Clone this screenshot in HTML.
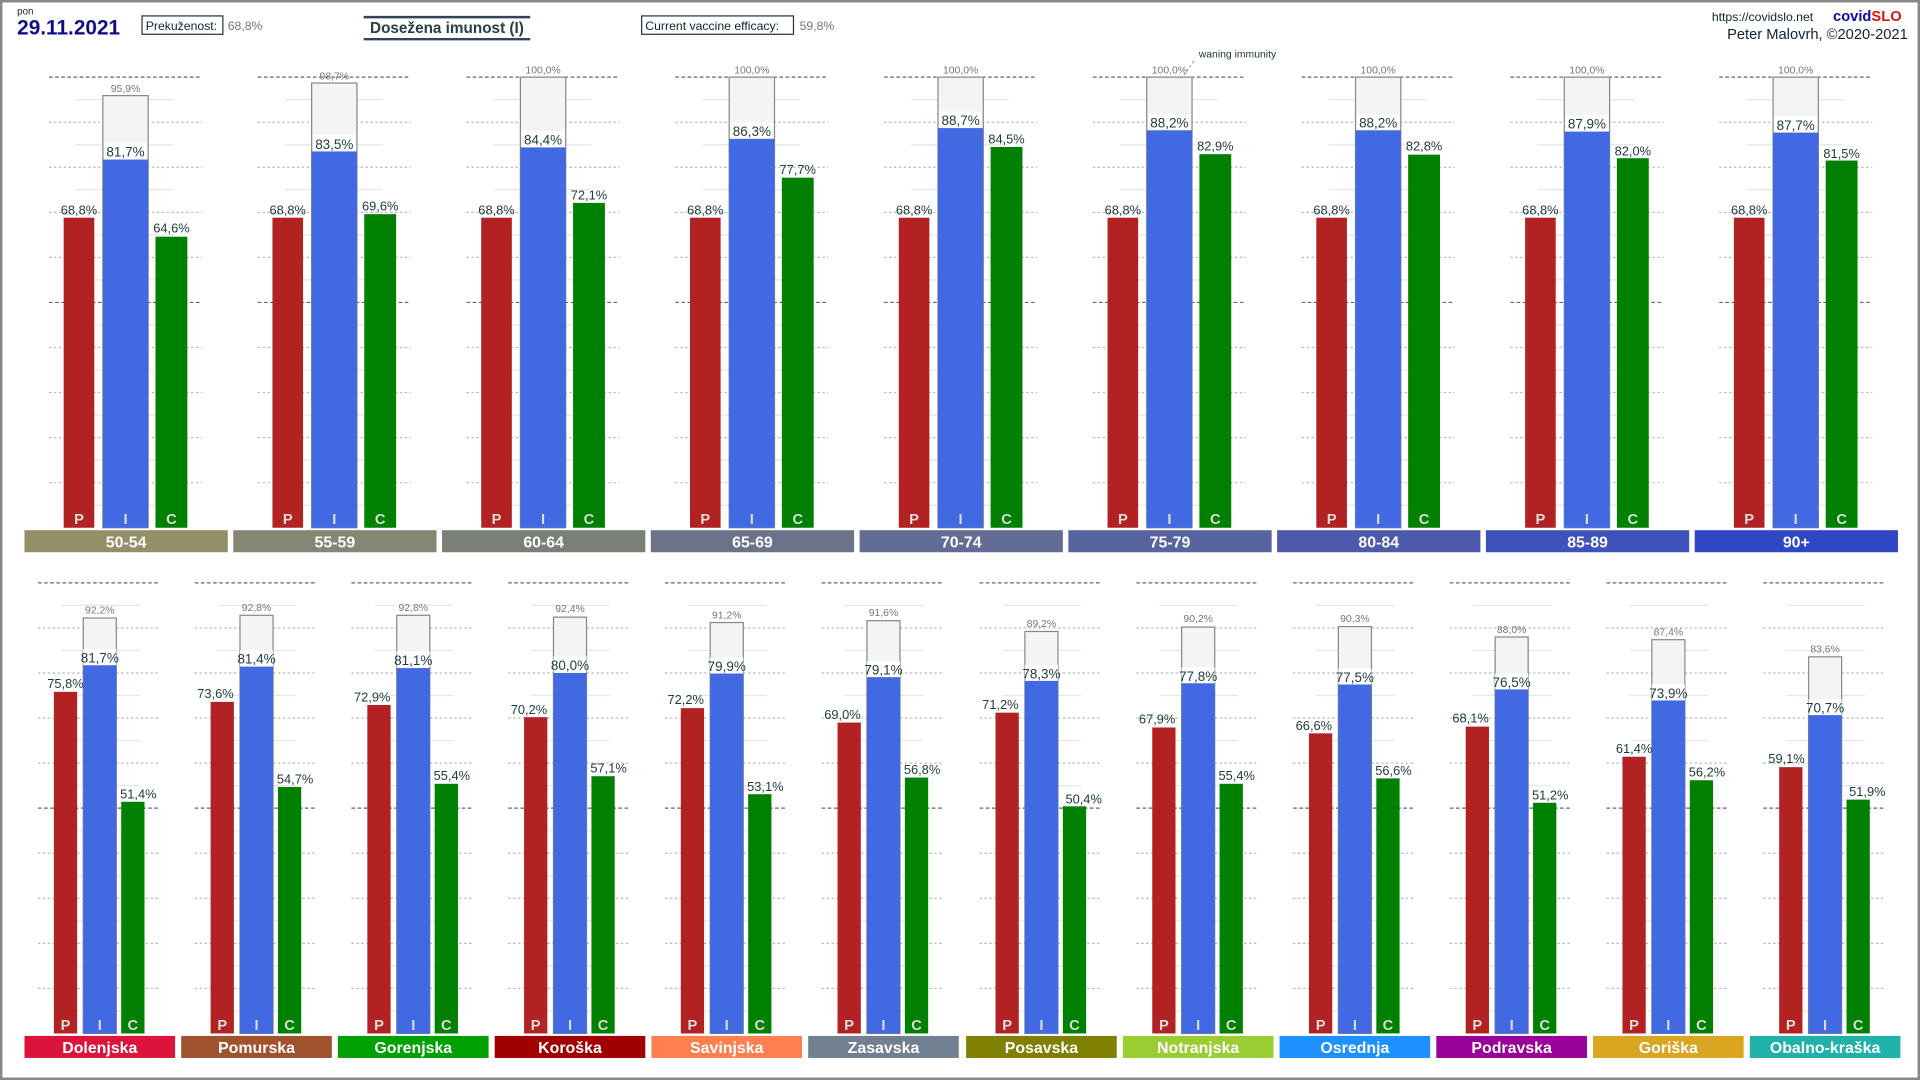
<!DOCTYPE html>
<html><head><meta charset="utf-8"><style>
html,body{margin:0;padding:0;background:#fff;}
svg{display:block;font-family:"Liberation Sans",sans-serif;}
.gl{font-size:13px;font-weight:bold;fill:#fff;text-anchor:middle}
.lt{font-size:12px;font-weight:bold;fill:#ddd;text-anchor:middle}
.v{font-size:10.5px;fill:#1f3a3a;text-anchor:middle}
.vi{font-size:11px;fill:#1f3a3a;text-anchor:middle}
.g{font-size:8.5px;fill:#777;text-anchor:middle}
.P{fill:#b22222}.I{fill:#4169e1}.C{fill:#008000}
.gh{fill:#f4f4f4;stroke:#888;stroke-width:1}
.sh{fill:#c8c8c8}
</style></head><body>
<svg width="1920" height="1080" viewBox="0 0 1568 882" xmlns="http://www.w3.org/2000/svg">
<defs>
<g id="gT">
<line x1="20" x2="145" y1="63" y2="63" stroke="#666" stroke-dasharray="3,2"/>
<line x1="20" x2="145" y1="247" y2="247" stroke="#666" stroke-dasharray="3,2"/>
<g stroke="#bbb" stroke-dasharray="2,2">
<line x1="20" x2="145" y1="99.8" y2="99.8"/><line x1="20" x2="145" y1="136.6" y2="136.6"/><line x1="20" x2="145" y1="173.4" y2="173.4"/><line x1="20" x2="145" y1="210.2" y2="210.2"/><line x1="20" x2="145" y1="283.8" y2="283.8"/><line x1="20" x2="145" y1="320.6" y2="320.6"/><line x1="20" x2="145" y1="357.4" y2="357.4"/><line x1="20" x2="145" y1="394.2" y2="394.2"/></g>
<g stroke="#e6e6e6">
<line x1="42" x2="122" y1="81.4" y2="81.4"/><line x1="42" x2="122" y1="118.2" y2="118.2"/><line x1="42" x2="122" y1="155" y2="155"/><line x1="42" x2="122" y1="191.8" y2="191.8"/><line x1="42" x2="122" y1="228.6" y2="228.6"/><line x1="42" x2="122" y1="265.4" y2="265.4"/><line x1="42" x2="122" y1="302.2" y2="302.2"/><line x1="42" x2="122" y1="339" y2="339"/><line x1="42" x2="122" y1="375.8" y2="375.8"/><line x1="42" x2="122" y1="412.6" y2="412.6"/></g>
</g>
<g id="gB">
<line x1="11" x2="111" y1="476" y2="476" stroke="#666" stroke-dasharray="3,2"/>
<line x1="11" x2="111" y1="660" y2="660" stroke="#666" stroke-dasharray="3,2"/>
<g stroke="#bbb" stroke-dasharray="2,2">
<line x1="11" x2="111" y1="512.8" y2="512.8"/><line x1="11" x2="111" y1="549.6" y2="549.6"/><line x1="11" x2="111" y1="586.4" y2="586.4"/><line x1="11" x2="111" y1="623.2" y2="623.2"/><line x1="11" x2="111" y1="696.8" y2="696.8"/><line x1="11" x2="111" y1="733.6" y2="733.6"/><line x1="11" x2="111" y1="770.4" y2="770.4"/><line x1="11" x2="111" y1="807.2" y2="807.2"/></g>
<g stroke="#e6e6e6">
<line x1="30" x2="94" y1="494.4" y2="494.4"/><line x1="30" x2="94" y1="531.2" y2="531.2"/><line x1="30" x2="94" y1="568" y2="568"/><line x1="30" x2="94" y1="604.8" y2="604.8"/><line x1="30" x2="94" y1="641.6" y2="641.6"/><line x1="30" x2="94" y1="678.4" y2="678.4"/><line x1="30" x2="94" y1="715.2" y2="715.2"/><line x1="30" x2="94" y1="752" y2="752"/><line x1="30" x2="94" y1="788.8" y2="788.8"/><line x1="30" x2="94" y1="825.6" y2="825.6"/></g>
</g>
</defs>
<rect x="1" y="1" width="1566" height="880" fill="#fff" stroke="#888" stroke-width="2"/>

<!-- header -->
<text x="14" y="12" font-size="8" fill="#223">pon</text>
<text x="14" y="28" font-size="17" font-weight="bold" fill="#0a0a8a" stroke="#99a" stroke-width="0.3">29.11.2021</text>
<rect x="116" y="13" width="66" height="15" fill="#fff" stroke="#234"/>
<text x="119" y="24.5" font-size="10" fill="#123">Prekuženost:</text>
<text x="186" y="24.5" font-size="10" fill="#777">68,8%</text>
<line x1="297" x2="433" y1="14" y2="14" stroke="#345" stroke-width="2"/>
<line x1="297" x2="433" y1="32" y2="32" stroke="#345" stroke-width="2"/>
<text x="365" y="27" font-size="12.5" font-weight="bold" fill="#2a3f3f" text-anchor="middle">Dosežena imunost (I)</text>
<rect x="524" y="13" width="124" height="15" fill="#fff" stroke="#234"/>
<text x="527" y="24.5" font-size="10" fill="#123">Current vaccine efficacy:</text>
<text x="653" y="24.5" font-size="10" fill="#777">59,8%</text>
<text x="1398" y="17" font-size="10" fill="#123">https://covidslo.net</text>
<text x="1497" y="17" font-size="12" font-weight="bold" fill="#0a0aa0">covid<tspan fill="#e01010">SLO</tspan></text>
<text x="1558" y="32" font-size="12" fill="#123" text-anchor="end">Peter Malovrh, ©2020-2021</text>
<text x="979" y="47" font-size="8.5" fill="#234">waning immunity</text>
<line x1="975" y1="50" x2="955" y2="78" stroke="#999" stroke-dasharray="2,2"/>

<!-- TOP ROW -->
<g transform="translate(20,0)"><use href="#gT"/>
<rect class="gh" x="64" y="78.1" width="37" height="352.9"/><rect class="P" x="32" y="177.8" width="25" height="253.2"/><rect class="I" x="64" y="130.3" width="37" height="300.7"/><rect class="C" x="107" y="193.3" width="26" height="237.7"/>
<text class="g" x="82.5" y="75">95,9%</text><rect x="65" y="117" width="35" height="13" fill="#fff"/><text class="vi" x="82.5" y="128">81,7%</text><text class="v" x="44.5" y="175">68,8%</text><text class="v" x="120" y="190">64,6%</text>
<text class="lt" x="44.5" y="428">P</text><text class="lt" x="82.5" y="428">I</text><text class="lt" x="120" y="428">C</text>
<rect x="0" y="433" width="166" height="18" fill="#958f68"/><text class="gl" x="83" y="447">50-54</text></g>

<g transform="translate(190.5,0)"><use href="#gT"/>
<rect class="gh" x="64" y="67.8" width="37" height="363.2"/><rect class="P" x="32" y="177.8" width="25" height="253.2"/><rect class="I" x="64" y="123.7" width="37" height="307.3"/><rect class="C" x="107" y="174.9" width="26" height="256.1"/>
<text class="g" x="82.5" y="65">98,7%</text><rect x="65" y="110" width="35" height="13" fill="#fff"/><text class="vi" x="82.5" y="121.5">83,5%</text><text class="v" x="44.5" y="175">68,8%</text><text class="v" x="120" y="172">69,6%</text>
<text class="lt" x="44.5" y="428">P</text><text class="lt" x="82.5" y="428">I</text><text class="lt" x="120" y="428">C</text>
<rect x="0" y="433" width="166" height="18" fill="#868674"/><text class="gl" x="83" y="447">55-59</text></g>

<g transform="translate(361,0)"><use href="#gT"/>
<rect class="gh" x="64" y="63" width="37" height="368"/><rect class="P" x="32" y="177.8" width="25" height="253.2"/><rect class="I" x="64" y="120.4" width="37" height="310.6"/><rect class="C" x="107" y="165.7" width="26" height="265.3"/>
<text class="g" x="82.5" y="60">100,0%</text><rect x="65" y="107" width="35" height="13" fill="#fff"/><text class="vi" x="82.5" y="118">84,4%</text><text class="v" x="44.5" y="175">68,8%</text><text class="v" x="120" y="163">72,1%</text>
<text class="lt" x="44.5" y="428">P</text><text class="lt" x="82.5" y="428">I</text><text class="lt" x="120" y="428">C</text>
<rect x="0" y="433" width="166" height="18" fill="#7a7f78"/><text class="gl" x="83" y="447">60-64</text></g>

<g transform="translate(531.5,0)"><use href="#gT"/>
<rect class="gh" x="64" y="63" width="37" height="368"/><rect class="P" x="32" y="177.8" width="25" height="253.2"/><rect class="I" x="64" y="113.4" width="37" height="317.6"/><rect class="C" x="107" y="145.1" width="26" height="285.9"/>
<text class="g" x="82.5" y="60">100,0%</text><rect x="65" y="100" width="35" height="13" fill="#fff"/><text class="vi" x="82.5" y="111">86,3%</text><text class="v" x="44.5" y="175">68,8%</text><text class="v" x="120" y="142">77,7%</text>
<text class="lt" x="44.5" y="428">P</text><text class="lt" x="82.5" y="428">I</text><text class="lt" x="120" y="428">C</text>
<rect x="0" y="433" width="166" height="18" fill="#6c7388"/><text class="gl" x="83" y="447">65-69</text></g>

<g transform="translate(702,0)"><use href="#gT"/>
<rect class="gh" x="64" y="63" width="37" height="368"/><rect class="P" x="32" y="177.8" width="25" height="253.2"/><rect class="I" x="64" y="104.6" width="37" height="326.4"/><rect class="C" x="107" y="120" width="26" height="311"/>
<text class="g" x="82.5" y="60">100,0%</text><rect x="65" y="91" width="35" height="13" fill="#fff"/><text class="vi" x="82.5" y="102">88,7%</text><text class="v" x="44.5" y="175">68,8%</text><text class="v" x="120" y="117">84,5%</text>
<text class="lt" x="44.5" y="428">P</text><text class="lt" x="82.5" y="428">I</text><text class="lt" x="120" y="428">C</text>
<rect x="0" y="433" width="166" height="18" fill="#636d94"/><text class="gl" x="83" y="447">70-74</text></g>

<g transform="translate(872.5,0)"><use href="#gT"/>
<rect class="gh" x="64" y="63" width="37" height="368"/><rect class="P" x="32" y="177.8" width="25" height="253.2"/><rect class="I" x="64" y="106.4" width="37" height="324.6"/><rect class="C" x="107" y="125.9" width="26" height="305.1"/>
<text class="g" x="82.5" y="60">100,0%</text><rect x="65" y="93" width="35" height="13" fill="#fff"/><text class="vi" x="82.5" y="104">88,2%</text><text class="v" x="44.5" y="175">68,8%</text><text class="v" x="120" y="123">82,9%</text>
<text class="lt" x="44.5" y="428">P</text><text class="lt" x="82.5" y="428">I</text><text class="lt" x="120" y="428">C</text>
<rect x="0" y="433" width="166" height="18" fill="#5864a0"/><text class="gl" x="83" y="447">75-79</text></g>

<g transform="translate(1043,0)"><use href="#gT"/>
<rect class="gh" x="64" y="63" width="37" height="368"/><rect class="P" x="32" y="177.8" width="25" height="253.2"/><rect class="I" x="64" y="106.4" width="37" height="324.6"/><rect class="C" x="107" y="126.3" width="26" height="304.7"/>
<text class="g" x="82.5" y="60">100,0%</text><rect x="65" y="93" width="35" height="13" fill="#fff"/><text class="vi" x="82.5" y="104">88,2%</text><text class="v" x="44.5" y="175">68,8%</text><text class="v" x="120" y="123">82,8%</text>
<text class="lt" x="44.5" y="428">P</text><text class="lt" x="82.5" y="428">I</text><text class="lt" x="120" y="428">C</text>
<rect x="0" y="433" width="166" height="18" fill="#4d5aab"/><text class="gl" x="83" y="447">80-84</text></g>

<g transform="translate(1213.5,0)"><use href="#gT"/>
<rect class="gh" x="64" y="63" width="37" height="368"/><rect class="P" x="32" y="177.8" width="25" height="253.2"/><rect class="I" x="64" y="107.5" width="37" height="323.5"/><rect class="C" x="107" y="129.2" width="26" height="301.8"/>
<text class="g" x="82.5" y="60">100,0%</text><rect x="65" y="94" width="35" height="13" fill="#fff"/><text class="vi" x="82.5" y="105">87,9%</text><text class="v" x="44.5" y="175">68,8%</text><text class="v" x="120" y="127">82,0%</text>
<text class="lt" x="44.5" y="428">P</text><text class="lt" x="82.5" y="428">I</text><text class="lt" x="120" y="428">C</text>
<rect x="0" y="433" width="166" height="18" fill="#3f51ba"/><text class="gl" x="83" y="447">85-89</text></g>

<g transform="translate(1384,0)"><use href="#gT"/>
<rect class="gh" x="64" y="63" width="37" height="368"/><rect class="P" x="32" y="177.8" width="25" height="253.2"/><rect class="I" x="64" y="108.3" width="37" height="322.7"/><rect class="C" x="107" y="131.1" width="26" height="299.9"/>
<text class="g" x="82.5" y="60">100,0%</text><rect x="65" y="95" width="35" height="13" fill="#fff"/><text class="vi" x="82.5" y="106">87,7%</text><text class="v" x="44.5" y="175">68,8%</text><text class="v" x="120" y="129">81,5%</text>
<text class="lt" x="44.5" y="428">P</text><text class="lt" x="82.5" y="428">I</text><text class="lt" x="120" y="428">C</text>
<rect x="0" y="433" width="166" height="18" fill="#2f47c4"/><text class="gl" x="83" y="447">90+</text></g>

<!-- BOTTOM ROW -->
<g transform="translate(20,0)"><use href="#gB"/>
<rect class="gh" x="48" y="504.7" width="27" height="339.3"/><rect class="P" x="24" y="565" width="19" height="279"/><rect class="I" x="48" y="543.3" width="27" height="300.7"/><rect class="C" x="79" y="654.8" width="19" height="189.2"/>
<text class="g" x="61.5" y="501">92,2%</text><rect x="48" y="530" width="27" height="13" fill="#fff"/><text class="vi" x="61.5" y="541">81,7%</text><text class="v" x="33.5" y="562">75,8%</text><text class="v" x="93" y="652">51,4%</text>
<text class="lt" x="33.5" y="841">P</text><text class="lt" x="61.5" y="841">I</text><text class="lt" x="88.5" y="841">C</text>
<rect x="0" y="846" width="123" height="18" fill="#dc143c"/><text class="gl" x="61.5" y="860">Dolenjska</text></g>

<g transform="translate(148,0)"><use href="#gB"/>
<rect class="gh" x="48" y="502.5" width="27" height="341.5"/><rect class="P" x="24" y="573.2" width="19" height="270.8"/><rect class="I" x="48" y="544.4" width="27" height="299.6"/><rect class="C" x="79" y="642.7" width="19" height="201.3"/>
<text class="g" x="61.5" y="499">92,8%</text><rect x="48" y="531" width="27" height="13" fill="#fff"/><text class="vi" x="61.5" y="542">81,4%</text><text class="v" x="28" y="570">73,6%</text><text class="v" x="93" y="640">54,7%</text>
<text class="lt" x="33.5" y="841">P</text><text class="lt" x="61.5" y="841">I</text><text class="lt" x="88.5" y="841">C</text>
<rect x="0" y="846" width="123" height="18" fill="#a0522d"/><text class="gl" x="61.5" y="860">Pomurska</text></g>

<g transform="translate(276,0)"><use href="#gB"/>
<rect class="gh" x="48" y="502.5" width="27" height="341.5"/><rect class="P" x="24" y="575.7" width="19" height="268.3"/><rect class="I" x="48" y="545.6" width="27" height="298.4"/><rect class="C" x="79" y="640.1" width="19" height="203.9"/>
<text class="g" x="61.5" y="499">92,8%</text><rect x="48" y="532" width="27" height="13" fill="#fff"/><text class="vi" x="61.5" y="543">81,1%</text><text class="v" x="28" y="573">72,9%</text><text class="v" x="93" y="637">55,4%</text>
<text class="lt" x="33.5" y="841">P</text><text class="lt" x="61.5" y="841">I</text><text class="lt" x="88.5" y="841">C</text>
<rect x="0" y="846" width="123" height="18" fill="#00a000"/><text class="gl" x="61.5" y="860">Gorenjska</text></g>

<g transform="translate(404,0)"><use href="#gB"/>
<rect class="gh" x="48" y="504" width="27" height="340"/><rect class="P" x="24" y="585.7" width="19" height="258.3"/><rect class="I" x="48" y="549.6" width="27" height="294.4"/><rect class="C" x="79" y="633.9" width="19" height="210.1"/>
<text class="g" x="61.5" y="500">92,4%</text><rect x="48" y="536" width="27" height="13" fill="#fff"/><text class="vi" x="61.5" y="547">80,0%</text><text class="v" x="28" y="583">70,2%</text><text class="v" x="93" y="631">57,1%</text>
<text class="lt" x="33.5" y="841">P</text><text class="lt" x="61.5" y="841">I</text><text class="lt" x="88.5" y="841">C</text>
<rect x="0" y="846" width="123" height="18" fill="#a00000"/><text class="gl" x="61.5" y="860">Koroška</text></g>

<g transform="translate(532,0)"><use href="#gB"/>
<rect class="gh" x="48" y="508.4" width="27" height="335.6"/><rect class="P" x="24" y="578.3" width="19" height="265.7"/><rect class="I" x="48" y="550" width="27" height="294"/><rect class="C" x="79" y="648.6" width="19" height="195.4"/>
<text class="g" x="61.5" y="505">91,2%</text><rect x="48" y="537" width="27" height="13" fill="#fff"/><text class="vi" x="61.5" y="548">79,9%</text><text class="v" x="28" y="575">72,2%</text><text class="v" x="93" y="646">53,1%</text>
<text class="lt" x="33.5" y="841">P</text><text class="lt" x="61.5" y="841">I</text><text class="lt" x="88.5" y="841">C</text>
<rect x="0" y="846" width="123" height="18" fill="#ff7f50"/><text class="gl" x="61.5" y="860">Savinjska</text></g>

<g transform="translate(660,0)"><use href="#gB"/>
<rect class="gh" x="48" y="506.9" width="27" height="337.1"/><rect class="P" x="24" y="590.1" width="19" height="253.9"/><rect class="I" x="48" y="552.9" width="27" height="291.1"/><rect class="C" x="79" y="635" width="19" height="209"/>
<text class="g" x="61.5" y="503">91,6%</text><rect x="48" y="540" width="27" height="13" fill="#fff"/><text class="vi" x="61.5" y="551">79,1%</text><text class="v" x="28" y="587">69,0%</text><text class="v" x="93" y="632">56,8%</text>
<text class="lt" x="33.5" y="841">P</text><text class="lt" x="61.5" y="841">I</text><text class="lt" x="88.5" y="841">C</text>
<rect x="0" y="846" width="123" height="18" fill="#708090"/><text class="gl" x="61.5" y="860">Zasavska</text></g>

<g transform="translate(789,0)"><use href="#gB"/>
<rect class="gh" x="48" y="515.7" width="27" height="328.3"/><rect class="P" x="24" y="582" width="19" height="262"/><rect class="I" x="48" y="555.9" width="27" height="288.1"/><rect class="C" x="79" y="658.5" width="19" height="185.5"/>
<text class="g" x="61.5" y="512">89,2%</text><rect x="48" y="543" width="27" height="13" fill="#fff"/><text class="vi" x="61.5" y="554">78,3%</text><text class="v" x="28" y="579">71,2%</text><text class="v" x="96" y="656">50,4%</text>
<text class="lt" x="33.5" y="841">P</text><text class="lt" x="61.5" y="841">I</text><text class="lt" x="88.5" y="841">C</text>
<rect x="0" y="846" width="123" height="18" fill="#808000"/><text class="gl" x="61.5" y="860">Posavska</text></g>

<g transform="translate(917,0)"><use href="#gB"/>
<rect class="gh" x="48" y="512.1" width="27" height="331.9"/><rect class="P" x="24" y="594.1" width="19" height="249.9"/><rect class="I" x="48" y="557.7" width="27" height="286.3"/><rect class="C" x="79" y="640.1" width="19" height="203.9"/>
<text class="g" x="61.5" y="508">90,2%</text><rect x="48" y="545" width="27" height="13" fill="#fff"/><text class="vi" x="61.5" y="556">77,8%</text><text class="v" x="28" y="591">67,9%</text><text class="v" x="93" y="637">55,4%</text>
<text class="lt" x="33.5" y="841">P</text><text class="lt" x="61.5" y="841">I</text><text class="lt" x="88.5" y="841">C</text>
<rect x="0" y="846" width="123" height="18" fill="#9acd32"/><text class="gl" x="61.5" y="860">Notranjska</text></g>

<g transform="translate(1045,0)"><use href="#gB"/>
<rect class="gh" x="48" y="511.7" width="27" height="332.3"/><rect class="P" x="24" y="598.9" width="19" height="245.1"/><rect class="I" x="48" y="558.8" width="27" height="285.2"/><rect class="C" x="79" y="635.7" width="19" height="208.3"/>
<text class="g" x="61.5" y="508">90,3%</text><rect x="48" y="546" width="27" height="13" fill="#fff"/><text class="vi" x="61.5" y="557">77,5%</text><text class="v" x="28" y="596">66,6%</text><text class="v" x="93" y="633">56,6%</text>
<text class="lt" x="33.5" y="841">P</text><text class="lt" x="61.5" y="841">I</text><text class="lt" x="88.5" y="841">C</text>
<rect x="0" y="846" width="123" height="18" fill="#1e90ff"/><text class="gl" x="61.5" y="860">Osrednja</text></g>

<g transform="translate(1173,0)"><use href="#gB"/>
<rect class="gh" x="48" y="520.2" width="27" height="323.8"/><rect class="P" x="24" y="593.4" width="19" height="250.6"/><rect class="I" x="48" y="562.5" width="27" height="281.5"/><rect class="C" x="79" y="655.6" width="19" height="188.4"/>
<text class="g" x="61.5" y="517">88,0%</text><rect x="48" y="550" width="27" height="13" fill="#fff"/><text class="vi" x="61.5" y="561">76,5%</text><text class="v" x="28" y="590">68,1%</text><text class="v" x="93" y="653">51,2%</text>
<text class="lt" x="33.5" y="841">P</text><text class="lt" x="61.5" y="841">I</text><text class="lt" x="88.5" y="841">C</text>
<rect x="0" y="846" width="123" height="18" fill="#990099"/><text class="gl" x="61.5" y="860">Podravska</text></g>

<g transform="translate(1301,0)"><use href="#gB"/>
<rect class="gh" x="48" y="522.4" width="27" height="321.6"/><rect class="P" x="24" y="618" width="19" height="226"/><rect class="I" x="48" y="572" width="27" height="272"/><rect class="C" x="79" y="637.2" width="19" height="206.8"/>
<text class="g" x="61.5" y="519">87,4%</text><rect x="48" y="559" width="27" height="13" fill="#fff"/><text class="vi" x="61.5" y="570">73,9%</text><text class="v" x="33.5" y="615">61,4%</text><text class="v" x="93" y="634">56,2%</text>
<text class="lt" x="33.5" y="841">P</text><text class="lt" x="61.5" y="841">I</text><text class="lt" x="88.5" y="841">C</text>
<rect x="0" y="846" width="123" height="18" fill="#daa520"/><text class="gl" x="61.5" y="860">Goriška</text></g>

<g transform="translate(1429,0)"><use href="#gB"/>
<rect class="gh" x="48" y="536.4" width="27" height="307.6"/><rect class="P" x="24" y="626.5" width="19" height="217.5"/><rect class="I" x="48" y="583.8" width="27" height="260.2"/><rect class="C" x="79" y="653" width="19" height="191"/>
<text class="g" x="61.5" y="533">83,6%</text><rect x="48" y="571" width="27" height="13" fill="#fff"/><text class="vi" x="61.5" y="582">70,7%</text><text class="v" x="30" y="623">59,1%</text><text class="v" x="96" y="650">51,9%</text>
<text class="lt" x="33.5" y="841">P</text><text class="lt" x="61.5" y="841">I</text><text class="lt" x="88.5" y="841">C</text>
<rect x="0" y="846" width="123" height="18" fill="#20b2aa"/><text class="gl" x="61.5" y="860">Obalno-kraška</text></g>
</svg>
</body></html>
